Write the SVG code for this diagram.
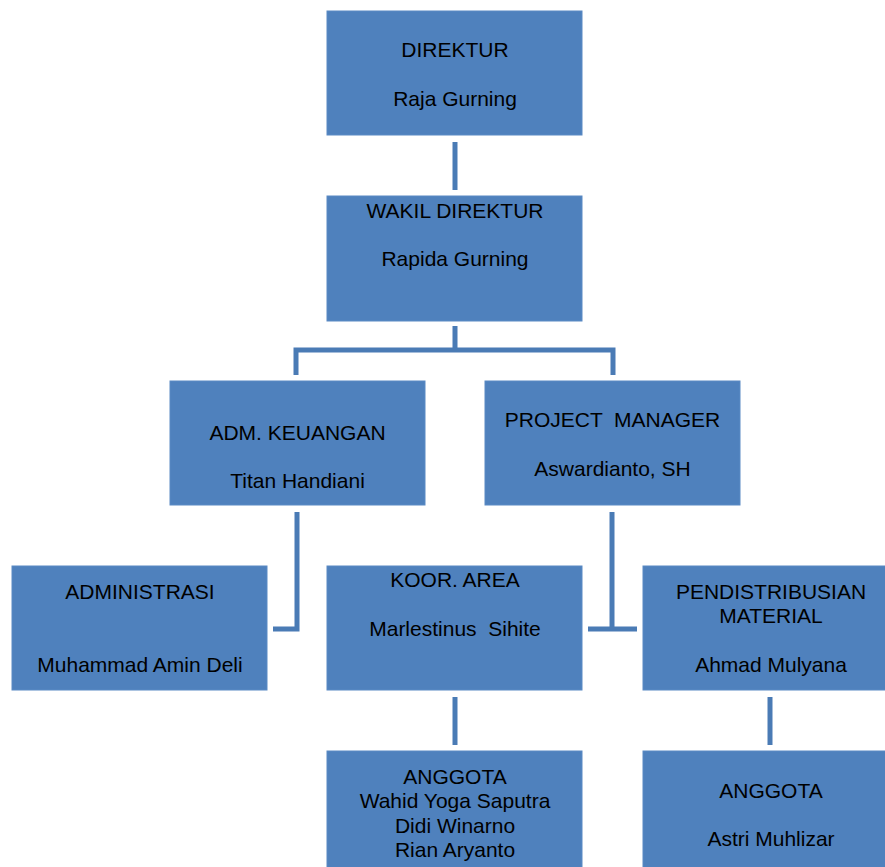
<svg xmlns="http://www.w3.org/2000/svg" width="885" height="867" viewBox="0 0 885 867">
<style>
.box{fill:#4F81BD;stroke:#5B8AC4;stroke-width:1}
.t{font-family:"Liberation Sans",Arial,sans-serif;font-size:21px;fill:#000;text-anchor:middle}
.c{fill:none;stroke:#4A7BB5;stroke-width:5}
</style>
<rect width="885" height="867" fill="#fff"/>
<g id="connectors">
<path class="c" d="M455 142V190"/>
<path class="c" d="M455 326V350M296 375V350H613V375"/>
<path class="c" d="M297 512V629H273"/>
<path class="c" d="M612 512V629M588 629H637"/>
<path class="c" d="M455 697V745"/>
<path class="c" d="M770 697V745"/>
</g>
<g id="direktur"><rect class="box" x="327" y="11" width="255" height="124"/>
<text class="t" x="455" y="57">DIREKTUR</text><text class="t" x="455" y="106">Raja Gurning</text></g>
<g id="wakil"><rect class="box" x="327" y="196" width="255" height="125"/>
<text class="t" x="455" y="218">WAKIL DIREKTUR</text><text class="t" x="455" y="266">Rapida Gurning</text></g>
<g id="adm-keuangan"><rect class="box" x="170" y="381" width="255" height="124"/>
<text class="t" x="297.5" y="440">ADM. KEUANGAN</text><text class="t" x="297.5" y="488">Titan Handiani</text></g>
<g id="project-manager"><rect class="box" x="485" y="381" width="255" height="124"/>
<text class="t" x="612.5" y="427" xml:space="preserve">PROJECT  MANAGER</text><text class="t" x="612.5" y="476">Aswardianto, SH</text></g>
<g id="administrasi"><rect class="box" x="12" y="566" width="255" height="124"/>
<text class="t" x="140" y="599">ADMINISTRASI</text><text class="t" x="140" y="672">Muhammad Amin Deli</text></g>
<g id="koor-area"><rect class="box" x="327" y="566" width="255" height="124"/>
<text class="t" x="455" y="587">KOOR. AREA</text><text class="t" x="455" y="636" xml:space="preserve">Marlestinus  Sihite</text></g>
<g id="pendistribusian"><rect class="box" x="643" y="566" width="256" height="124"/>
<text class="t" x="771" y="599">PENDISTRIBUSIAN</text><text class="t" x="771" y="623">MATERIAL</text><text class="t" x="771" y="672">Ahmad Mulyana</text></g>
<g id="anggota-1"><rect class="box" x="327" y="751" width="255" height="124"/>
<text class="t" x="455" y="784">ANGGOTA</text><text class="t" x="455" y="808">Wahid Yoga Saputra</text><text class="t" x="455" y="833">Didi Winarno</text><text class="t" x="455" y="857">Rian Aryanto</text></g>
<g id="anggota-2"><rect class="box" x="643" y="751" width="256" height="124"/>
<text class="t" x="771" y="798">ANGGOTA</text><text class="t" x="771" y="846">Astri Muhlizar</text></g>
</svg>
